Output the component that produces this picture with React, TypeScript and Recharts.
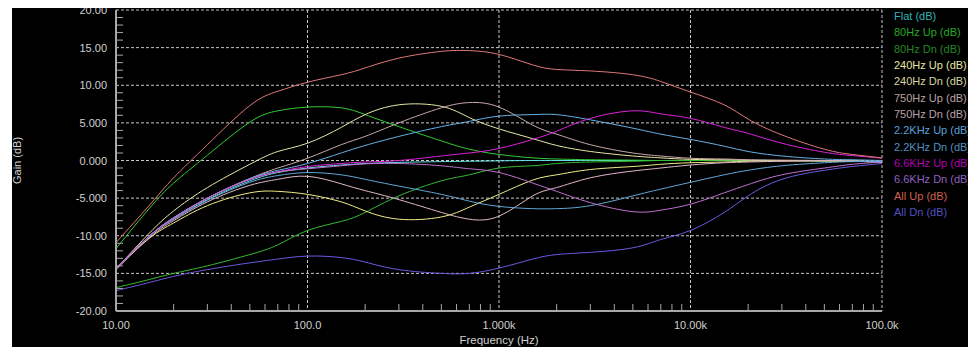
import React from "react";
import { LineChart, Line, XAxis, YAxis, CartesianGrid } from "recharts";

// frequency points (Hz) the curves were read at
const freqs = [
  10, 15, 20, 30, 50, 70, 100, 150, 200, 300, 500, 700, 1000, 1500, 2000, 3000,
  5000, 7000, 10000, 15000, 20000, 30000, 50000, 70000, 100000,
];

// gain in dB for each setting
const flat = [-14.4, -10.0, -7.8, -5.2, -2.7, -1.6, -1.0, -0.6, -0.4, -0.25, -0.15, -0.1, -0.05, 0, 0, 0, 0, 0, 0, 0, 0, 0, -0.05, -0.1, -0.2];
const up80 = [-11.7, -6.3, -3.0, 0.7, 5.1, 6.6, 7.1, 7.0, 6.1, 4.5, 2.6, 1.5, 0.8, 0.35, 0.2, 0.1, 0.05, 0, 0, 0, 0, 0, -0.05, -0.1, -0.2];
const dn80 = [-16.9, -15.8, -15.0, -14.0, -12.5, -11.2, -9.3, -8.1, -6.9, -4.7, -2.7, -1.9, -1.0, -0.7, -0.4, -0.2, -0.1, 0, 0, 0, 0, 0, -0.05, -0.1, -0.2];
const up240 = [-14.4, -9.6, -6.7, -3.6, -0.5, 1.2, 2.3, 4.4, 6.1, 7.4, 7.2, 5.7, 4.2, 2.9, 2.0, 1.2, 0.6, 0.35, 0.15, 0.1, 0.05, 0, 0, -0.05, -0.15];
const dn240 = [-14.4, -10.3, -8.3, -6.0, -4.3, -4.1, -4.5, -5.5, -6.7, -7.8, -7.5, -6.2, -4.5, -2.6, -1.9, -1.2, -0.8, -0.5, -0.3, -0.2, -0.1, -0.05, -0.05, -0.1, -0.2];
const up750 = [-14.4, -10.0, -7.6, -5.0, -2.4, -1.0, 0.3, 2.1, 3.2, 5.0, 7.0, 7.7, 7.1, 4.7, 3.5, 2.1, 1.0, 0.6, 0.3, 0.2, 0.1, 0.05, 0, -0.05, -0.15];
const dn750 = [-14.5, -10.2, -8.0, -5.5, -3.3, -2.5, -2.1, -3.1, -4.0, -5.2, -6.9, -7.8, -7.4, -4.7, -3.6, -2.3, -1.4, -1.0, -0.6, -0.3, -0.2, -0.1, -0.05, -0.1, -0.2];
const up2k2 = [-14.4, -10.0, -7.6, -5.0, -2.4, -1.3, -0.4, 1.0, 2.0, 3.2, 4.5, 5.2, 5.9, 6.1, 6.1, 5.4, 4.3, 3.5, 2.8, 1.9, 1.2, 0.6, 0.2, 0.1, 0];
const dn2k2 = [-14.4, -10.0, -7.8, -5.3, -2.9, -2.0, -1.6, -1.9, -2.5, -3.4, -4.5, -5.4, -6.1, -6.4, -6.4, -6.0, -4.7, -3.8, -2.9, -1.9, -1.3, -0.7, -0.3, -0.15, -0.1];
const up6k6 = [-14.4, -10.0, -7.7, -5.0, -2.5, -1.5, -0.8, -0.4, -0.2, 0, 0.6, 1.0, 1.6, 2.8, 3.9, 5.6, 6.6, 6.2, 5.6, 4.4, 3.6, 2.3, 1.1, 0.65, 0.3];
const dn6k6 = [-14.4, -10.0, -7.7, -5.0, -2.5, -1.5, -1.1, -0.7, -0.45, -0.4, -0.7, -1.1, -1.6, -3.0, -4.1, -5.6, -6.8, -6.6, -5.8, -4.3, -3.2, -1.9, -1.0, -0.5, -0.2];
const allUp = [-10.9, -5.9, -2.3, 2.1, 7.3, 9.2, 10.4, 11.4, 12.3, 13.6, 14.5, 14.6, 14.1, 12.7, 12.1, 11.9, 11.4, 10.5, 9.1, 7.4, 5.5, 3.4, 1.5, 0.8, 0.35];
const allDn = [-17.3, -16.2, -15.4, -14.5, -13.6, -13.1, -12.7, -12.9, -13.5, -14.5, -15.0, -15.0, -14.3, -13.1, -12.5, -12.2, -11.6, -10.5, -9.3, -6.9, -4.7, -2.5, -1.3, -0.8, -0.4];

const seriesNames = [
  "Flat (dB)", "80Hz Up (dB)", "80Hz Dn (dB)", "240Hz Up (dB)", "240Hz Dn (dB)",
  "750Hz Up (dB)", "750Hz Dn (dB)", "2.2KHz Up (dB)", "2.2KHz Dn (dB)",
  "6.6KHz Up (dB)", "6.6KHz Dn (dB)", "All Up (dB)", "All Dn (dB)",
];
const seriesValues = [flat, up80, dn80, up240, dn240, up750, dn750, up2k2, dn2k2, up6k6, dn6k6, allUp, allDn];
const lineColors = [
  "#66e0e0", "#33cc33", "#33bb33", "#e8e8a8", "#eeee88", "#c8a8a8", "#e0b8c8",
  "#66b0e8", "#60a8d8", "#dd22dd", "#c070d0", "#e07878", "#6a5ae0",
];
const legendColors = [
  "#33b3b3", "#22aa22", "#228822", "#e6e6a0", "#d6d6a0", "#bba0a0", "#bba0a8",
  "#5aa0d8", "#5090c0", "#b000b0", "#9060c0", "#d06050", "#5050c0",
];

// axis ticks
const yMajor = [-20, -15, -10, -5, 0, 5, 10, 15, 20];
const yTicks = Array.from({ length: 41 }, (_, i) => i - 20);
const xMajor = [10, 100, 1000, 10000, 100000];
const xLabels: Record<number, string> = {
  10: "10.00", 100: "100.0", 1000: "1.000k", 10000: "10.00k", 100000: "100.0k",
};
const xTicks = [10, 100, 1000, 10000].flatMap((d) => [1, 2, 3, 4, 5, 6, 7, 8, 9].map((m) => d * m)).concat([100000]);

const keys = seriesNames.map((_, i) => `s${i}`);
const data = freqs.map((f, i) => {
  const row: Record<string, number> = { f };
  keys.forEach((k, j) => (row[k] = seriesValues[j][i]));
  return row;
});

const FONT = "'Liberation Sans', Arial, sans-serif";
const TEXT = "#d0d0d0";
const AXIS = "#a8a8a8";

const fmtY = (v: number) => (Math.abs(v) >= 10 ? v.toFixed(2) : v.toFixed(3));

const YTick = (props: any) => {
  const { x, y, payload } = props;
  const v = payload.value;
  const axisX = x + 9;
  if (v % 5 !== 0) {
    return <line x1={axisX} x2={axisX + 7} y1={y} y2={y} stroke={AXIS} />;
  }
  return (
    <text x={x} y={y} dy={4} textAnchor="end" fill={TEXT} fontSize={11} fontFamily={FONT}>
      {fmtY(v)}
    </text>
  );
};

const XTick = (props: any) => {
  const { x, y, payload } = props;
  const v = payload.value;
  const axisY = y - 10;
  const label = xLabels[v];
  if (!label) {
    return <line x1={x} x2={x} y1={axisY} y2={axisY - 7} stroke={AXIS} />;
  }
  return (
    <text x={x} y={y} dy={8} textAnchor="middle" fill={TEXT} fontSize={11} fontFamily={FONT}>
      {label}
    </text>
  );
};

export default function App() {
  return (
    <div
      style={{
        position: "fixed",
        left: 12,
        top: 8,
        width: 956,
        height: 339,
        background: "#000",
        overflow: "hidden",
      }}
    >
      <LineChart
        width={956}
        height={339}
        data={data}
        margin={{ top: 2, right: 86, left: 0, bottom: 0 }}
      >
        <CartesianGrid
          horizontalValues={yMajor}
          verticalValues={xMajor}
          stroke="#c8c8c8"
          strokeDasharray="3 2"
        />
        <XAxis
          dataKey="f"
          type="number"
          scale="log"
          domain={[10, 100000]}
          ticks={xTicks}
          interval={0}
          height={36}
          tickSize={0}
          tickMargin={10}
          tick={<XTick />}
          axisLine={{ stroke: AXIS, strokeWidth: 2 }}
          allowDataOverflow
          label={{
            content: (p: any) => {
              const vb = p.viewBox;
              return (
                <text x={vb.x + vb.width / 2} y={vb.y + 33} textAnchor="middle" fill={TEXT} fontSize={11.5} fontFamily={FONT}>
                  Frequency (Hz)
                </text>
              );
            },
          }}
        />
        <YAxis
          type="number"
          domain={[-20, 20]}
          ticks={yTicks}
          interval={0}
          width={104}
          tickSize={0}
          tickMargin={9}
          tick={<YTick />}
          axisLine={{ stroke: AXIS, strokeWidth: 2 }}
          allowDataOverflow
          label={{
            content: (p: any) => {
              const vb = p.viewBox;
              const cx = vb.x + 9;
              const cy = vb.y + vb.height / 2;
              return (
                <text x={cx} y={cy} transform={`rotate(-90 ${cx} ${cy})`} textAnchor="middle" fill={TEXT} fontSize={11} fontFamily={FONT}>
                  Gain (dB)
                </text>
              );
            },
          }}
        />
        {keys.map((k, i) => (
          <Line
            key={k}
            type="natural"
            dataKey={k}
            name={seriesNames[i]}
            stroke={lineColors[i]}
            strokeWidth={1}
            dot={false}
            activeDot={false}
            isAnimationActive={false}
          />
        ))}
      </LineChart>
      <div
        style={{
          position: "absolute",
          left: 882,
          top: 0,
          fontFamily: FONT,
          fontSize: 11,
          lineHeight: "16.33px",
          whiteSpace: "nowrap",
        }}
      >
        {seriesNames.map((n, i) => (
          <div key={n} style={{ color: legendColors[i] }}>
            {n}
          </div>
        ))}
      </div>
    </div>
  );
}
